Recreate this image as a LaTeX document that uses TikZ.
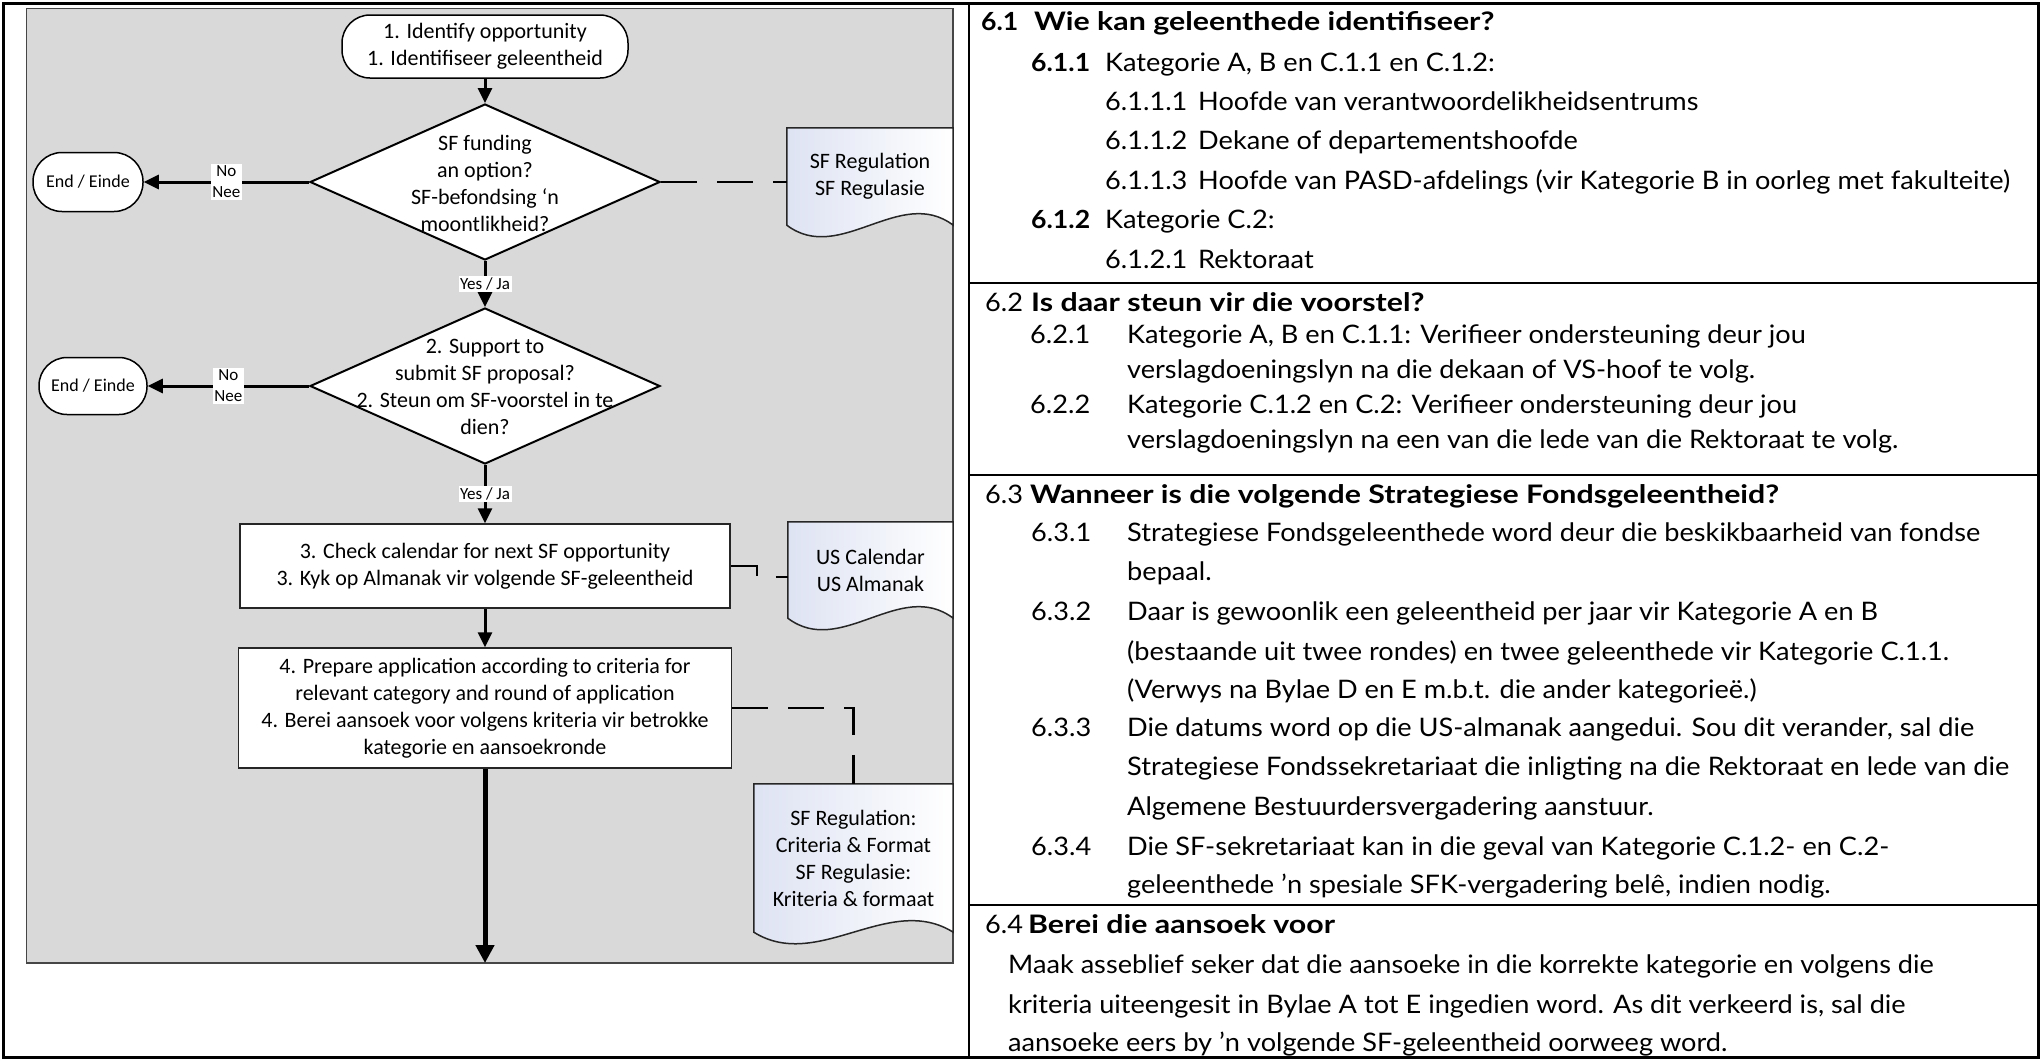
\documentclass[tikz,border=0pt]{standalone}
\usepackage{fontspec}
\setmainfont{Carlito}
\newfontfamily\panelfont{Lato}[FakeStretch=1.065]
\newfontfamily\panelbold{Lato}[FakeStretch=1.19]
\usetikzlibrary{arrows.meta,shapes.geometric,calc,backgrounds}

\definecolor{panelgray}{RGB}{217,217,217}
\definecolor{paneledge}{RGB}{70,70,70}
\definecolor{docblue}{RGB}{222,227,243}

\begin{document}
\begin{tikzpicture}[x=1pt,y=-1pt,
  chart/.style={font=\fontsize{22}{27}\selectfont, align=center},
  term/.style={draw=black, line width=1.5pt, fill=white, rounded corners=28pt, inner sep=0pt, chart},
  decision/.style={diamond, draw=black, line width=2pt, fill=white, inner sep=0pt, minimum width=350pt, minimum height=156pt},
  procbox/.style={draw=black!85, line width=1.5pt, fill=white, inner sep=0pt, chart},
  docnode/.style={inner sep=0pt, chart},
  flow/.style={line width=3pt, -{Triangle[length=15pt,width=14pt]}},
  link/.style={line width=2.2pt, dash pattern=on 36pt off 20pt},
  tag/.style={fill=white, inner sep=1.5pt, font=\fontsize{17}{21}\selectfont, align=center},
  body/.style={anchor=base west, inner sep=0pt, font=\panelfont\fontsize{25.5}{30}\selectfont},
  head/.style={anchor=base west, inner sep=0pt, font=\panelbold\bfseries\fontsize{25.5}{30}\selectfont},
  numhead/.style={anchor=base west, inner sep=0pt, font=\panelfont\bfseries\fontsize{25}{30}\selectfont},
]
\useasboundingbox (0,0) rectangle (2042,1061);

% ---------- flowchart ----------
\node[term, minimum width=286pt, minimum height=63pt] (start) at (485,46.5)
  {1. Identify opportunity\\1. Identifiseer geleentheid};

\node[decision] (d1) at (485,182) {};
\node[chart] (d1text) at (485,183) {SF funding\\an option?\\SF-befondsing ‘n\\moontlikheid?};

\node[decision] (d2) at (485,386) {};
\node[chart] (d2text) at (485,387) {2. Support to\\submit SF proposal?\\2. Steun om SF-voorstel in te\\dien?};

\node[term, rounded corners=29pt, minimum width=110pt, minimum height=59pt,
      font=\fontsize{18}{22}\selectfont] (end1) at (88,182) {End / Einde};
\node[term, rounded corners=28pt, minimum width=108pt, minimum height=57pt,
      font=\fontsize{18}{22}\selectfont] (end2) at (93,386) {End / Einde};

\node[procbox, minimum width=490pt, minimum height=84pt] (box3) at (485,566)
  {3. Check calendar for next SF opportunity\\3. Kyk op Almanak vir volgende SF-geleentheid};
\node[procbox, minimum width=493pt, minimum height=120pt] (box4) at (485,708)
  {4. Prepare application according to criteria for\\relevant category and round of application\\4. Berei aansoek voor volgens kriteria vir betrokke\\kategorie en aansoekronde};

% reference documents (outline drawn on the background layer)
\node[docnode, minimum width=166pt, minimum height=97pt] (doc1) at (870,176.5)
  {SF Regulation\\SF Regulasie};
\node[docnode, minimum width=165pt, minimum height=96pt] (doc2) at (870.5,570)
  {US Calendar\\US Almanak};
\node[docnode, minimum width=199pt, minimum height=148pt] (doc3) at (853.5,858)
  {SF Regulation:\\Criteria \& Format\\SF Regulasie:\\Kriteria \& formaat};

\begin{scope}[on background layer]
  \draw[fill=panelgray, draw=paneledge, line width=1.5pt] (26.5,8.5) rectangle (953,963);
  \foreach \d/\c in {doc1/53, doc2/53, doc3/64}{
    \draw[left color=docblue, right color=white, draw=black!85, line width=1.5pt]
      (\d.north west) -- (\d.south west)
      .. controls ($(\d.south west)+(\c,40)$) and ($(\d.south east)+(-\c,-40)$) .. (\d.south east)
      -- (\d.north east) -- cycle;
  }
\end{scope}

% connectors
\draw[flow] (start.south) -- (d1.north);
\draw[flow] (d1.west) -- node[tag] (no1) {No\\Nee} (end1.east);
\draw[flow] (d2.west) -- node[tag] (no2) {No\\Nee} (end2.east);
\draw[flow] (d1.south) -- node[tag] (yes1) {Yes / Ja} (d2.north);
\draw[flow] (d2.south) -- node[tag] (yes2) {Yes / Ja} (box3.north);
\draw[flow] (box3.south) -- (box4.north);
\coordinate (flowend) at (485,963);
\draw[line width=5pt, -{Triangle[length=18pt,width=18pt]}] (box4.south) -- (flowend);

\draw[link] (d1.east) -- (d1.east -| doc1.west);
\draw[link] (box3.east) -- ++(26,0) |- ([yshift=-7pt]doc2.west);
\draw[link] (box4.east) -| (doc3.north);

% ---------- text panel ----------
% 6.1
\node[numhead] (r1) at (981,30) {6.1};
\node[head] (r2) at (1034,30) {Wie kan geleenthede identifiseer?};
\node[numhead] (r3) at (1031,71) {6.1.1};
\node[body] (r4) at (1105,71) {Kategorie A, B en C.1.1 en C.1.2:};
\node[body] (r5) at (1105,110) {6.1.1.1};
\node[body] (r6) at (1198,110) {Hoofde van verantwoordelikheidsentrums};
\node[body] (r7) at (1105,149) {6.1.1.2};
\node[body] (r8) at (1198,149) {Dekane of departementshoofde};
\node[body] (r9) at (1105,189) {6.1.1.3};
\node[body] (r10) at (1198,189) {Hoofde van PASD-afdelings (vir Kategorie B in oorleg met fakulteite)};
\node[numhead] (r11) at (1031,228) {6.1.2};
\node[body] (r12) at (1105,228) {Kategorie C.2:};
\node[body] (r13) at (1105,268) {6.1.2.1};
\node[body] (r14) at (1198,268) {Rektoraat};
% 6.2
\node[body] (r15) at (985,311) {6.2};
\node[head] (r16) at (1031,311) {Is daar steun vir die voorstel?};
\node[body] (r17) at (1030,343) {6.2.1};
\node[body] (r18) at (1127,343) {Kategorie A, B en C.1.1: Verifieer ondersteuning deur jou};
\node[body] (r19) at (1127,378) {verslagdoeningslyn na die dekaan of VS-hoof te volg.};
\node[body] (r20) at (1030,413) {6.2.2};
\node[body] (r21) at (1127,413) {Kategorie C.1.2 en C.2: Verifieer ondersteuning deur jou};
\node[body] (r22) at (1127,448) {verslagdoeningslyn na een van die lede van die Rektoraat te volg.};
% 6.3
\node[body] (r23) at (985,503) {6.3};
\node[head] (r24) at (1030,503) {Wanneer is die volgende Strategiese Fondsgeleentheid?};
\node[body] (r25) at (1031,541) {6.3.1};
\node[body] (r26) at (1127,541) {Strategiese Fondsgeleenthede word deur die beskikbaarheid van fondse};
\node[body] (r27) at (1127,580) {bepaal.};
\node[body] (r28) at (1031,620) {6.3.2};
\node[body] (r29) at (1127,620) {Daar is gewoonlik een geleentheid per jaar vir Kategorie A en B};
\node[body] (r30) at (1127,660) {(bestaande uit twee rondes) en twee geleenthede vir Kategorie C.1.1.};
\node[body] (r31) at (1127,698) {(Verwys na Bylae D en E m.b.t. die ander kategorieë.)};
\node[body] (r32) at (1031,736) {6.3.3};
\node[body] (r33) at (1127,736) {Die datums word op die US-almanak aangedui. Sou dit verander, sal die};
\node[body] (r34) at (1127,775) {Strategiese Fondssekretariaat die inligting na die Rektoraat en lede van die};
\node[body] (r35) at (1127,815) {Algemene Bestuurdersvergadering aanstuur.};
\node[body] (r36) at (1031,855) {6.3.4};
\node[body] (r37) at (1127,855) {Die SF-sekretariaat kan in die geval van Kategorie C.1.2- en C.2-};
\node[body] (r38) at (1127,893) {geleenthede ’n spesiale SFK-vergadering belê, indien nodig.};
% 6.4
\node[body] (r39) at (985,933) {6.4};
\node[head] (r40) at (1028,933) {Berei die aansoek voor};
\node[body] (r41) at (1008,973) {Maak asseblief seker dat die aansoeke in die korrekte kategorie en volgens die};
\node[body] (r42) at (1008,1013) {kriteria uiteengesit in Bylae A tot E ingedien word. As dit verkeerd is, sal die};
\node[body] (r43) at (1008,1051) {aansoeke eers by ’n volgende SF-geleentheid oorweeg word.};

% ---------- frame and rules ----------
\draw[line width=2pt] (969,3.5) -- (969,1057.5);
\draw[line width=2.5pt] (969,283) -- (2038.5,283);
\draw[line width=2.5pt] (969,475) -- (2038.5,475);
\draw[line width=2.5pt] (969,905) -- (2038.5,905);
\draw[line width=3.5pt] (3.5,3.5) rectangle (2038.5,1057.5);
\end{tikzpicture}
\end{document}
